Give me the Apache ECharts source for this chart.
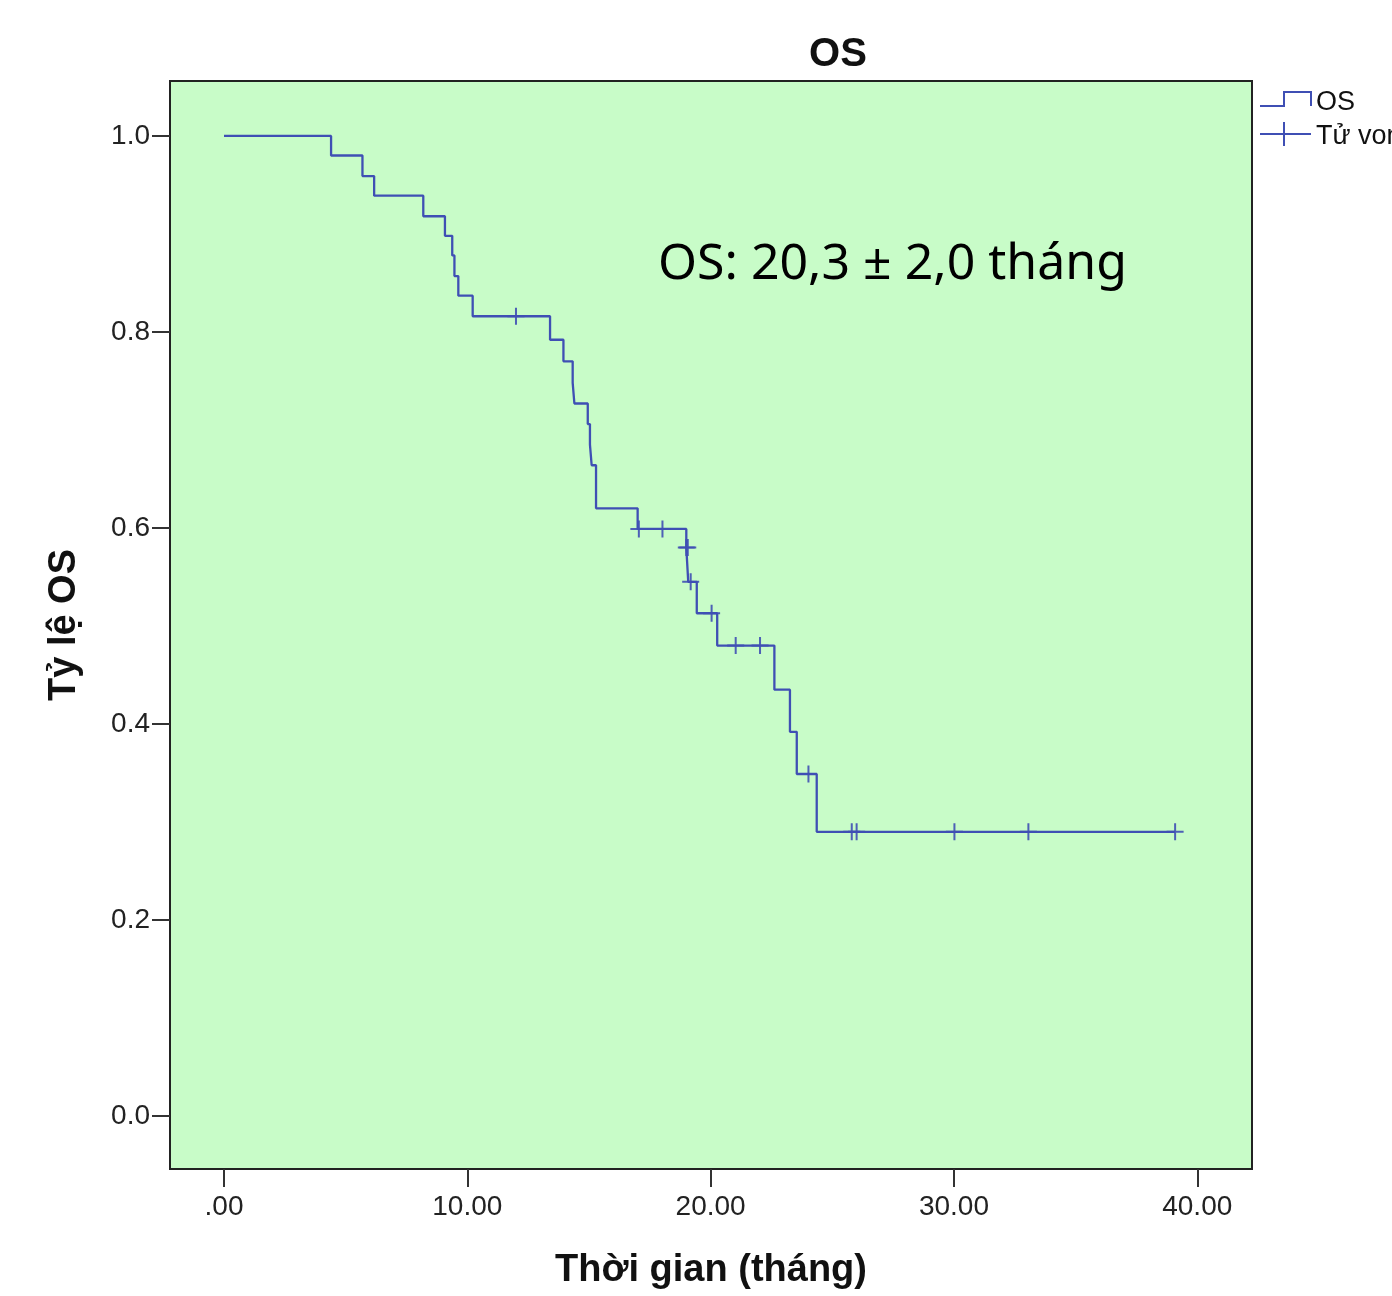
<!DOCTYPE html>
<html><head><meta charset="utf-8">
<script src="https://cdn.jsdelivr.net/npm/echarts@6/dist/echarts.min.js"></script>
<style>html,body{margin:0;padding:0;background:#fff}#c{width:1392px;height:1296px}</style>
</head><body><div id="c"></div>
<script>
// Kaplan-Meier step curve (time in months, survival proportion)
const stepTimes = [0, 4.40, 5.69, 6.17, 8.19, 9.08, 9.38, 9.47, 9.63, 10.22, 13.40, 13.95, 14.33, 14.40, 14.95, 15.04, 15.11, 15.29, 17.00, 19.00, 19.08, 19.43, 20.27, 22.62, 23.26, 23.54, 24.36, 39.09];
const stepSurv  = [1.000, 0.980, 0.959, 0.939, 0.918, 0.898, 0.878, 0.857, 0.837, 0.816, 0.792, 0.770, 0.748, 0.727, 0.706, 0.685, 0.664, 0.620, 0.599, 0.580, 0.545, 0.513, 0.480, 0.435, 0.392, 0.349, 0.290, 0.290];
// Censored observations
const censorTimes = [12.00, 17.05, 18.02, 19.00, 19.06, 19.18, 20.04, 21.03, 22.03, 24.02, 25.80, 26.00, 30.02, 33.06, 39.09];
const censorSurv  = [0.816, 0.599, 0.599, 0.580, 0.580, 0.545, 0.513, 0.480, 0.480, 0.349, 0.290, 0.290, 0.290, 0.290, 0.290];
// Axis ticks
const xTickValues = [0, 10, 20, 30, 40];
const xTickLabels = ['.00', '10.00', '20.00', '30.00', '40.00'];
const yTickValues = [0, 0.2, 0.4, 0.6, 0.8, 1.0];
const yTickLabels = ['0.0', '0.2', '0.4', '0.6', '0.8', '1.0'];
const seriesNames = ['OS', 'Tử vong'];
const titleText = 'OS';
const noteText = 'OS: 20,3 ± 2,0 tháng';
const xName = 'Thời gian (tháng)';
const yName = 'Tỷ lệ OS';

const LINE = '#3f4fb4';
const chart = echarts.init(document.getElementById('c'), null, {renderer: 'canvas'});
const plus = 'path://M7.5,0H9.5V7.5H17V9.5H9.5V17H7.5V9.5H0V7.5H7.5Z';
const axisFont = {fontFamily: 'Liberation Sans', fontSize: 28, color: '#222'};
const nameFont = {fontFamily: 'Liberation Sans', fontSize: 38, fontWeight: 'bold', color: '#111'};

chart.setOption({
  animation: false,
  title: {text: titleText, left: 833, textAlign: 'center', top: 30,
    textStyle: {fontFamily: 'Liberation Sans', fontSize: 40, fontWeight: 'bold', color: '#111'}},
  grid: {left: 170, top: 81, right: 140, bottom: 127, show: true, outerBoundsMode: 'none', containLabel: false,
    backgroundColor: '#c8fcc8', borderColor: '#222', borderWidth: 2},
  xAxis: {type: 'value', min: -2.22, max: 42.25,
    name: xName, nameLocation: 'middle', nameGap: 83, nameMoveOverlap: false, nameTextStyle: nameFont,
    splitLine: {show: false}, axisLine: {show: false, onZero: false},
    axisTick: {show: true, length: 18, customValues: xTickValues, lineStyle: {color: '#333', width: 2}},
    axisLabel: Object.assign({margin: 24, customValues: xTickValues,
      formatter: v => xTickLabels[xTickValues.indexOf(Math.round(v))]}, axisFont)},
  yAxis: {type: 'value', min: -0.054, max: 1.056,
    name: yName, nameLocation: 'middle', nameGap: 86, nameMoveOverlap: false, nameTextStyle: nameFont,
    splitLine: {show: false}, axisLine: {show: false, onZero: false},
    axisTick: {show: true, length: 18, customValues: yTickValues, lineStyle: {color: '#333', width: 2}},
    axisLabel: Object.assign({margin: 20, customValues: yTickValues,
      formatter: v => yTickLabels[yTickValues.findIndex(t => Math.abs(t - v) < 1e-6)]}, axisFont)},
  series: [
    {name: seriesNames[0], type: 'line', step: 'end', showSymbol: false, symbol: 'none',
      lineStyle: {color: LINE, width: 2.3}, data: stepTimes.map((t, i) => [t, stepSurv[i]]), z: 2},
    {name: seriesNames[1], type: 'scatter', symbol: plus, symbolSize: [17, 17],
      itemStyle: {color: LINE, opacity: 0.9}, data: censorTimes.map((t, i) => [t, censorSurv[i]]), z: 3}
  ],
  graphic: [
    {type: 'text', x: 658, y: 265, style: {text: noteText, fontFamily: 'Noto Sans', fontSize: 50, fill: '#000', verticalAlign: 'middle'}},
    // legend
    {type: 'polyline', shape: {points: [[1260, 106], [1284, 106], [1284, 92], [1311, 92], [1311, 106]]},
      style: {stroke: LINE, lineWidth: 2, fill: null}},
    {type: 'text', x: 1316, y: 103, style: {text: seriesNames[0], fontFamily: 'Liberation Sans', fontSize: 27, fill: '#111', verticalAlign: 'middle'}},
    {type: 'line', shape: {x1: 1260, y1: 134, x2: 1311, y2: 134}, style: {stroke: LINE, lineWidth: 2}},
    {type: 'line', shape: {x1: 1284, y1: 122, x2: 1284, y2: 146}, style: {stroke: LINE, lineWidth: 2}},
    {type: 'text', x: 1316, y: 137, style: {text: seriesNames[1], fontFamily: 'Liberation Sans', fontSize: 27, fill: '#111', verticalAlign: 'middle'}}
  ]
});
</script></body></html>
